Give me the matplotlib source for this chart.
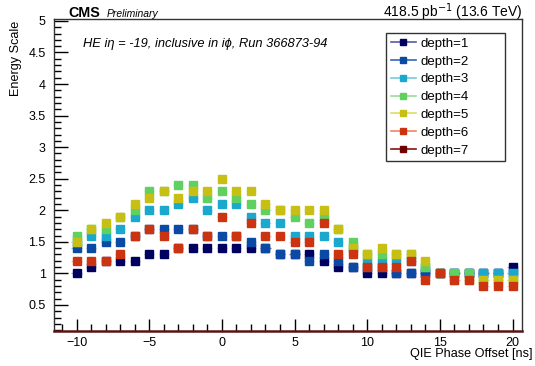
import matplotlib
matplotlib.use("Agg")
import matplotlib.pyplot as plt
from matplotlib.lines import Line2D
from matplotlib.ticker import MultipleLocator, FixedLocator, FixedFormatter

plt.rcParams['font.family'] = ['Liberation Sans', 'DejaVu Sans']

phase = list(range(-10, 21))

depth1 = [1.0, 1.1, 1.2, 1.2, 1.2, 1.3, 1.3, 1.4, 1.4, 1.4, 1.4, 1.4, 1.4, 1.4, 1.3, 1.3,
          1.3, 1.2, 1.1, 1.1, 1.0, 1.0, 1.0, 1.0, 1.0, 1.0, 1.0, 1.0, 1.0, 1.0, 1.1]
depth2 = [1.4, 1.4, 1.5, 1.5, 1.6, 1.7, 1.7, 1.7, 1.7, 1.6, 1.6, 1.6, 1.5, 1.4, 1.3, 1.3,
          1.2, 1.3, 1.2, 1.1, 1.1, 1.1, 1.0, 1.0, 1.0, 1.0, 1.0, 1.0, 1.0, 1.0, 1.0]
depth3 = [1.5, 1.6, 1.6, 1.7, 1.9, 2.0, 2.0, 2.1, 2.2, 2.0, 2.1, 2.1, 1.9, 1.8, 1.8, 1.6,
          1.6, 1.6, 1.5, 1.4, 1.2, 1.2, 1.2, 1.2, 1.1, 1.0, 1.0, 1.0, 1.0, 1.0, 1.0]
depth4 = [1.6, 1.7, 1.7, 1.9, 2.0, 2.3, 2.3, 2.4, 2.4, 2.2, 2.3, 2.2, 2.1, 2.0, 2.0, 1.9,
          1.8, 1.9, 1.7, 1.5, 1.3, 1.3, 1.3, 1.3, 1.1, 1.0, 1.0, 1.0, 0.9, 0.9, 0.9]
depth5 = [1.5, 1.7, 1.8, 1.9, 2.1, 2.2, 2.3, 2.2, 2.3, 2.3, 2.5, 2.3, 2.3, 2.1, 2.0, 2.0,
          2.0, 2.0, 1.7, 1.4, 1.3, 1.4, 1.3, 1.3, 1.2, 1.0, 0.9, 0.9, 0.9, 0.9, 0.9]
depth6 = [1.2, 1.2, 1.2, 1.3, 1.6, 1.7, 1.6, 1.4, 1.7, 1.6, 1.9, 1.6, 1.8, 1.6, 1.6, 1.5,
          1.5, 1.8, 1.3, 1.3, 1.1, 1.1, 1.1, 1.2, 0.9, 1.0, 0.9, 0.9, 0.8, 0.8, 0.8]
depth7 = [0.0] * 31

series = [depth1, depth2, depth3, depth4, depth5, depth6, depth7]
labels = ["depth=1", "depth=2", "depth=3", "depth=4", "depth=5", "depth=6", "depth=7"]
colors = ['#000060', '#0a4aa5', '#1aa8cc', '#60d060', '#c8bf14', '#cc3311', '#6e0000']
lcolors = ['#5a5aa8', '#3366bb', '#77ccdd', '#99dd99', '#dddd66', '#ee8866', '#8a1111']

W, H = 535, 366
AX_L, AX_R, AX_T, AX_B = 54, 522, 19, 331
fig = plt.figure(figsize=(W / 100, H / 100), dpi=100)
ax = fig.add_axes([AX_L / W, 1 - AX_B / H, (AX_R - AX_L) / W, (AX_B - AX_T) / H])

for vals, c, lc in zip(series, colors, lcolors):
    ax.errorbar(phase, vals, xerr=0.35, fmt='none', ecolor=lc, elinewidth=1.0, alpha=0.5, zorder=2)
    ax.plot(phase, vals, linestyle='none', marker='s', markersize=5.2,
            markerfacecolor=c, markeredgecolor=c, zorder=3)

ax.set_xlim(-11.55, 20.65)
ax.set_ylim(0.087, 5.03)

ax.xaxis.set_major_locator(MultipleLocator(5))
ax.xaxis.set_minor_locator(MultipleLocator(1))
yt = [0.5, 1, 1.5, 2, 2.5, 3, 3.5, 4, 4.5, 5]
ax.yaxis.set_major_locator(FixedLocator(yt))
ax.yaxis.set_major_formatter(FixedFormatter(["0.5", "1", "1.5", "2", "2.5", "3", "3.5", "4", "4.5", "5"]))
ax.yaxis.set_minor_locator(MultipleLocator(0.1))
ax.set_xticks([-10, -5, 0, 5, 10, 15, 20])
ax.set_xticklabels(["\u221210", "\u22125", "0", "5", "10", "15", "20"])

ax.tick_params(axis='both', which='both', direction='in', top=False, right=False, labelsize=9)
ax.tick_params(axis='y', which='major', length=10, width=1, pad=6)
ax.tick_params(axis='y', which='minor', length=5, width=1)
ax.tick_params(axis='x', which='major', length=9, width=1, pad=4)
ax.tick_params(axis='x', which='minor', length=5, width=1)

for s in ['top', 'right', 'left']:
    ax.spines[s].set_color('#333333')
    ax.spines[s].set_linewidth(1.0)
ax.spines['bottom'].set_color('#5a1414')
ax.spines['bottom'].set_linewidth(1.8)

axw = AX_R - AX_L
axh = AX_B - AX_T
handles = [Line2D([0], [0], color=lc, lw=1.2, marker='s', markersize=5.0,
                  markerfacecolor=c, markeredgecolor=c) for c, lc in zip(colors, lcolors)]
leg = ax.legend(handles, labels, loc='upper left', mode='expand',
                bbox_to_anchor=((386 - AX_L) / axw, (AX_B - 157) / axh,
                                (505 - 386) / axw, (157 - 33) / axh),
                borderaxespad=0, fontsize=9.5, labelspacing=0.42, handlelength=1.9,
                handletextpad=0.4, borderpad=0.35, fancybox=False, framealpha=1)
leg.get_frame().set_edgecolor('#333333')
leg.get_frame().set_linewidth(1.0)

fig.text(68 / W, 1 - 17 / H, "CMS", fontsize=10.3, fontweight='bold', va='baseline', ha='left')
fig.text(107 / W, 1 - 17 / H, "Preliminary", fontsize=7.5, style='italic', va='baseline', ha='left')
fig.text(522 / W, 1 - 17 / H, "418.5 pb$^{-1}$ (13.6 TeV)", fontsize=10, va='baseline', ha='right')
fig.text(83 / W, 1 - 47 / H, "HE i\u03b7 = -19, inclusive in i\u03d5, Run 366873-94",
         fontsize=9.3, style='italic', va='baseline', ha='left')
fig.text(16 / W, 1 - 21 / H, "Energy Scale", fontsize=9.1, rotation=90, va='top', ha='center')
fig.text(533 / W, 1 - 357 / H, "QIE Phase Offset [ns]", fontsize=9.1, va='baseline', ha='right')

fig.savefig("out.png", dpi=100)
